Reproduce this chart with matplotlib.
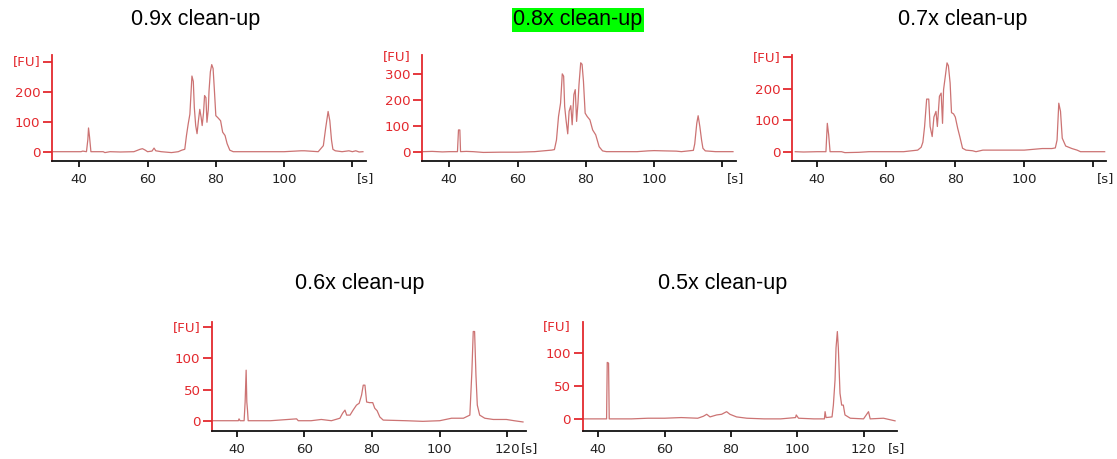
import matplotlib.pyplot as plt

# Bioanalyzer traces: (time [s], fluorescence [FU])
trace_09 = [(32.4, 0), (36, 0), (40.5, 0), (41, 2), (42.1, 0), (42.5, 40), (42.7, 79), (43.0, 49),
            (43.4, 0), (44, 0), (47, 0), (47.5, -3), (49, 0), (52, -1), (56, 0), (57.8, 8), (58.5, 10),
            (59.2, 6), (60, 0), (61.3, 2), (61.9, 12), (62.4, 3), (64, 0), (67, -3), (69, 0), (70, 5),
            (70.9, 8), (71.4, 54), (71.9, 92), (72.4, 125), (73.0, 252), (73.4, 234), (73.7, 147),
            (74.1, 87), (74.5, 60), (74.9, 103), (75.3, 141), (75.7, 114), (76.0, 87), (76.4, 130),
            (76.7, 187), (77.1, 180), (77.4, 98), (77.8, 141), (78.0, 201), (78.4, 266), (78.8, 290),
            (79.2, 277), (79.6, 201), (80.0, 120), (80.7, 112), (81.4, 103), (82.0, 65), (82.7, 54),
            (83.3, 27), (84.1, 5), (85.1, 0), (90, 0), (100, 0), (105, 3), (106, 3), (110, 0),
            (111.5, 20), (112.2, 80), (112.9, 134), (113.4, 103), (113.9, 38), (114.3, 8), (115, 3),
            (117, 0), (119, 3), (120, 0), (121, 3), (122, -1), (123.1, 0)]

trace_08 = [(32.4, 0), (35, 1), (38, -1), (40, 0), (42.4, 0), (42.7, 84), (43.1, 84), (43.3, 0),
            (45, 1), (47, 0), (50, -3), (55, -2), (60, -2), (65, 0), (70, 6), (70.8, 8), (71.4, 45),
            (72.0, 136), (72.6, 188), (73.1, 301), (73.5, 292), (73.8, 175), (74.2, 123), (74.7, 69),
            (75.1, 156), (75.6, 178), (76.0, 104), (76.5, 221), (76.9, 240), (77.3, 117), (77.7, 188),
            (78.0, 260), (78.5, 344), (78.9, 338), (79.3, 273), (79.8, 149), (80.4, 136), (81.2, 123),
            (82.0, 84), (82.9, 65), (83.9, 19), (84.9, 3), (86, 0), (95, 0), (98.2, 3), (100, 4),
            (103, 3), (106.5, 2), (108, 0), (111.5, 5), (111.9, 30), (112.5, 110), (112.9, 139),
            (113.4, 97), (113.9, 45), (114.3, 13), (115, 3), (118, 0), (123.1, 0)]

trace_07 = [(33.6, 0), (36, -1), (40, 0), (42.5, 0), (42.9, 90), (43.3, 53), (43.7, 0), (47, 0),
            (48, -3), (52, -2), (55, 0), (60, 0), (65, 0), (69.1, 5), (70.1, 14), (70.6, 30),
            (71.1, 80), (71.7, 167), (72.3, 167), (72.7, 80), (73.3, 48), (73.8, 110), (74.4, 128),
            (74.8, 80), (75.4, 176), (75.9, 186), (76.3, 90), (76.6, 197), (77.1, 239), (77.6, 282),
            (78.0, 273), (78.5, 218), (78.9, 124), (79.5, 120), (80.0, 110), (80.7, 74), (81.3, 48),
            (82.1, 11), (83.1, 5), (85, 3), (86, 0), (88, 5), (100, 5), (105.2, 10), (108, 10),
            (109, 12), (109.5, 37), (110.0, 154), (110.5, 128), (111.0, 43), (112.0, 18),
            (113.8, 10), (115.3, 5), (116.3, 0), (123.3, 0)]

trace_06 = [(33.1, 0), (40.5, 0), (40.7, 3), (41, 0), (42.2, 0), (42.5, 30), (42.8, 81), (43.0, 30),
            (43.2, 17), (43.4, 0), (50, 0), (57.7, 3), (58.2, 0), (62, 0), (65, 2), (68, 0), (70.5, 4),
            (71.3, 12), (72.0, 17), (72.5, 9), (73.5, 9), (74.4, 17), (75.4, 25), (76.2, 28),
            (76.9, 41), (77.4, 57), (77.9, 57), (78.4, 30), (79.2, 29), (80.2, 29), (80.8, 20),
            (81.5, 16), (82.3, 6), (83.3, 1), (90, 0), (95, -1), (100, 0), (103.5, 4), (107, 4),
            (108.9, 9), (109.5, 79), (109.9, 143), (110.3, 143), (110.7, 73), (111.1, 25), (111.8, 9),
            (113.3, 4), (115.8, 2), (119.7, 2), (122, 0), (124.6, -2)]

trace_05 = [(35.5, 0), (42.5, 0), (42.7, 86), (43.1, 85), (43.3, 0), (50, 0), (55, 1), (60, 1),
            (65, 2), (70, 1), (71.7, 4), (72.7, 7), (73.7, 3), (75.7, 6), (77.2, 7), (78.7, 11),
            (79.7, 7), (81.7, 3), (84.8, 1), (90, 0), (95, 0), (99.5, 2), (99.7, 6), (100.4, 1),
            (105, 0), (108.2, 0), (108.4, 11), (108.7, 2), (110.5, 3), (110.9, 21), (111.4, 59),
            (111.7, 108), (112.1, 133), (112.4, 108), (112.9, 39), (113.4, 21), (113.9, 21),
            (114.4, 6), (116, 1), (120, 0), (121.5, 11), (122, 0), (126, 1), (129.5, -3)]

titles = ['0.9x clean-up', '0.8x clean-up', '0.7x clean-up', '0.6x clean-up', '0.5x clean-up']
x_ticks = [40, 60, 80, 100, 120]
yticks_top = [0, 100, 200]
yticks_08 = [0, 100, 200, 300]
yticks_bottom = [0, 50, 100]

W, H = 1117, 459
RED = '#e3292e'
LINE = '#cc7373'
FS = 9.6

# layout in pixels: (left, top, right, bottom), plus axis ranges
panels = [
    dict(trace=trace_09, box=(52, 55, 366, 160.7), xlim=(32, 124), ylim=(-30, 322),
         yticks=yticks_top, fu=300, fu_tick=True, last_label=False, title_xy=(196, 20), s_dx=0),
    dict(trace=trace_08, box=(422.3, 55, 735.7, 160.7), xlim=(32.1, 123.9), ylim=(-35, 374),
         yticks=yticks_08, fu=368, fu_tick=False, last_label=False, title_xy=(578, 20), s_dx=0),
    dict(trace=trace_07, box=(792.3, 55, 1105.7, 160.7), xlim=(32.75, 123.6), ylim=(-28.6, 307),
         yticks=yticks_top, fu=300, fu_tick=True, last_label=False, title_xy=(963, 20), s_dx=0),
    dict(trace=trace_06, box=(212.3, 321.7, 525.7, 430.7), xlim=(32.8, 125.4), ylim=(-16, 158.7),
         yticks=yticks_bottom, fu=150, fu_tick=True, last_label=True, title_xy=(359.5, 284), s_dx=2.5),
    dict(trace=trace_05, box=(582.7, 321.7, 896.7, 430.7), xlim=(35.3, 130), ylim=(-18, 148),
         yticks=yticks_bottom, fu=140, fu_tick=False, last_label=True, title_xy=(722.5, 284), s_dx=0),
]

fig = plt.figure(figsize=(W / 100, H / 100), dpi=100)

for i, p in enumerate(panels):
    x0, y0, x1, y1 = p['box']
    ax = fig.add_axes([x0 / W, 1 - y1 / H, (x1 - x0) / W, (y1 - y0) / H])
    t = [pt[0] for pt in p['trace']]
    v = [pt[1] for pt in p['trace']]
    ax.plot(t, v, color=LINE, lw=0.9)
    ax.set_xlim(*p['xlim'])
    ax.set_ylim(*p['ylim'])

    for s in ['top', 'right']:
        ax.spines[s].set_visible(False)
    ax.spines['left'].set_color(RED)
    ax.spines['left'].set_linewidth(1.3)
    ax.spines['bottom'].set_color('#111111')
    ax.spines['bottom'].set_linewidth(1.3)

    yt = list(p['yticks'])
    yl = [str(y) for y in yt]
    if p['fu_tick']:
        yt.append(p['fu'])
        yl.append('')
    ax.set_yticks(yt)
    ax.set_yticklabels(yl)
    ax.set_xticks(x_ticks)
    xl = [str(x) for x in x_ticks]
    if not p['last_label']:
        xl[-1] = ''
    ax.set_xticklabels(xl)

    ax.tick_params(axis='y', colors=RED, length=6.5, width=1.3, pad=2, labelsize=FS)
    ax.tick_params(axis='x', colors='#111111', length=4.5, width=1.3, pad=4, labelsize=FS)
    for lab in ax.get_xticklabels():
        lab.set_color('#222222')

    # [FU] unit at the top of the y axis, [s] at the end of the x axis
    ax.annotate('[FU]', xy=(0, p['fu']), xycoords=('axes fraction', 'data'),
                xytext=(-8.5, 0), textcoords='offset points', ha='right', va='center',
                color=RED, fontsize=FS)
    ax.annotate('[s]', xy=(1, 0), xycoords='axes fraction', xytext=(p['s_dx'], -8.5),
                textcoords='offset points', ha='center', va='top',
                color='#222222', fontsize=FS)

    tx, ty = p['title_xy']
    kw = {}
    if i == 1:
        kw['bbox'] = dict(boxstyle='square,pad=0.05', facecolor='#00ff00', edgecolor='none')
    fig.text(tx / W, 1 - ty / H, titles[i], ha='center', va='center',
             fontsize=15.5, family='Liberation Sans', color='black', **kw)

fig.savefig('out.png', dpi=100)
